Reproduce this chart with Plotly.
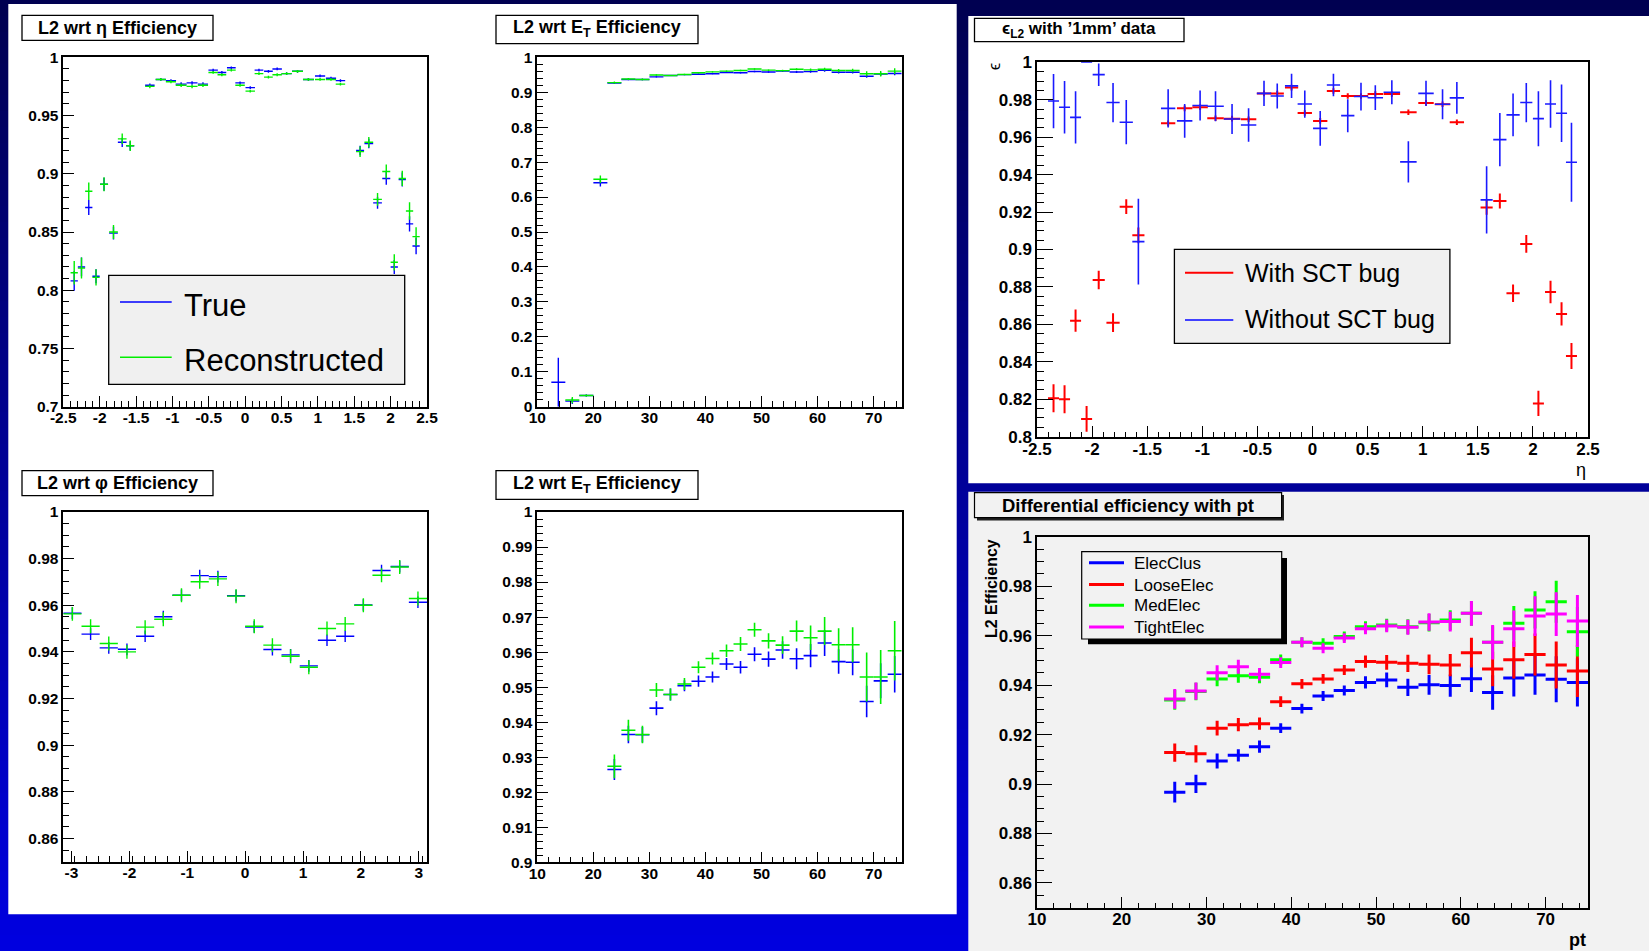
import plotly.graph_objects as go

W, H = 1649, 951

# ---------------- data ----------------
# eta binning (shared by the eta efficiency plots)
eta_centers = [-2.35, -2.25, -2.15, -2.05, -1.94, -1.81, -1.69, -1.58,
               -1.31, -1.16, -1.02, -0.88, -0.73, -0.58, -0.44, -0.32, -0.19, -0.07,
               0.07, 0.19, 0.32, 0.44, 0.57, 0.72, 0.87, 1.03, 1.18, 1.31,
               1.58, 1.70, 1.82, 1.94, 2.05, 2.16, 2.26, 2.35]
eta_halfwidth = [0.05, 0.05, 0.05, 0.05, 0.055, 0.06, 0.06, 0.055,
                 0.065, 0.07, 0.07, 0.075, 0.075, 0.07, 0.065, 0.06, 0.06, 0.065,
                 0.065, 0.06, 0.06, 0.065, 0.07, 0.075, 0.075, 0.07, 0.07, 0.065,
                 0.055, 0.06, 0.06, 0.055, 0.05, 0.05, 0.05, 0.05]
eta_true = [0.808, 0.820, 0.871, 0.812, 0.891, 0.849, 0.927, 0.924,
            0.976, 0.981, 0.980, 0.977, 0.978, 0.977, 0.989, 0.987, 0.991, 0.978,
            0.974, 0.989, 0.988, 0.990, 0.986, 0.988, 0.981, 0.984, 0.982, 0.980,
            0.920, 0.926, 0.875, 0.896, 0.820, 0.895, 0.857, 0.838]
eta_true_err = [0.0085, 0.008, 0.0065, 0.006, 0.0055, 0.0055, 0.004, 0.004,
                0.0015, 0.0012, 0.0012, 0.0015, 0.0015, 0.0015, 0.0012, 0.0012, 0.0012, 0.0012,
                0.0012, 0.0012, 0.0012, 0.0012, 0.0012, 0.0012, 0.0012, 0.0012, 0.0012, 0.0012,
                0.004, 0.004, 0.005, 0.0055, 0.006, 0.006, 0.0065, 0.007]
eta_reco = [0.815, 0.819, 0.885, 0.811, 0.891, 0.850, 0.930, 0.924,
            0.975, 0.981, 0.979, 0.976, 0.975, 0.976, 0.987, 0.985, 0.989, 0.976,
            0.971, 0.986, 0.983, 0.985, 0.986, 0.988, 0.981, 0.981, 0.981, 0.977,
            0.919, 0.927, 0.878, 0.902, 0.824, 0.896, 0.868, 0.846]
eta_reco_err = [0.01, 0.009, 0.0075, 0.007, 0.006, 0.006, 0.0045, 0.0045,
                0.0015, 0.0012, 0.0012, 0.0015, 0.0015, 0.0015, 0.0012, 0.0012, 0.0012, 0.0012,
                0.0012, 0.0012, 0.0012, 0.0012, 0.0012, 0.0012, 0.0012, 0.0012, 0.0012, 0.0012,
                0.0045, 0.0045, 0.0055, 0.006, 0.007, 0.0065, 0.0075, 0.008]

# E_T binning (2.5 GeV bins)
et_centers = [13.75, 16.25, 18.75, 21.25, 23.75, 26.25, 28.75, 31.25, 33.75, 36.25,
              38.75, 41.25, 43.75, 46.25, 48.75, 51.25, 53.75, 56.25, 58.75, 61.25,
              63.75, 66.25, 68.75, 71.25, 73.75]
et_half_bin = 1.25
et_true = [0.070, 0.016, 0.032, 0.641, 0.9265, 0.9365, 0.9364, 0.9440, 0.9479, 0.9504,
           0.9517, 0.9529, 0.9566, 0.9557, 0.9594, 0.9580, 0.9606, 0.9581, 0.9590, 0.9626,
           0.9573, 0.9571, 0.9459, 0.9518, 0.9537]
et_true_err = [0.07, 0.008, 0.003, 0.011, 0.003, 0.0025, 0.0022, 0.002, 0.0017, 0.0016,
               0.0016, 0.0016, 0.0017, 0.0018, 0.002, 0.0022, 0.0025, 0.003, 0.0033, 0.0037,
               0.0035, 0.0037, 0.0045, 0.005, 0.0052]
et_reco = [None, 0.019, 0.032, 0.651, 0.9274, 0.9377, 0.9365, 0.9492, 0.9479, 0.9509,
           0.9557, 0.9582, 0.9604, 0.9623, 0.9664, 0.9632, 0.9620, 0.9660, 0.9641, 0.9660,
           0.9621, 0.9621, 0.9529, 0.9529, 0.9604]
et_reco_err = [0, 0.009, 0.003, 0.011, 0.0034, 0.003, 0.0025, 0.002, 0.0017, 0.0017,
               0.0017, 0.0017, 0.0018, 0.002, 0.002, 0.0022, 0.0025, 0.003, 0.0035, 0.004,
               0.0047, 0.005, 0.007, 0.0077, 0.0085]

# phi binning (20 bins over -pi..pi)
phi_centers = [-2.985, -2.670, -2.356, -2.042, -1.728, -1.414, -1.100, -0.785, -0.471, -0.157,
               0.157, 0.471, 0.785, 1.100, 1.414, 1.728, 2.042, 2.356, 2.670, 2.985]
phi_half_bin = 0.157
phi_true = [0.9566, 0.9476, 0.9417, 0.9411, 0.9467, 0.9551, 0.9643, 0.9727, 0.9723, 0.9641,
            0.9507, 0.9410, 0.9387, 0.9340, 0.9450, 0.9467, 0.9601, 0.9749, 0.9766, 0.9613]
phi_true_err = [0.0025] * 20
phi_reco = [0.9563, 0.9510, 0.9436, 0.9400, 0.9506, 0.9540, 0.9643, 0.9701, 0.9713, 0.9639,
            0.9510, 0.9429, 0.9381, 0.9334, 0.9500, 0.9520, 0.9600, 0.9729, 0.9764, 0.9629]
phi_reco_err = [0.003] * 20

# '1mm' data, with and without the SCT bug (same eta binning)
sct_bug = [0.8205, 0.8200, 0.8620, 0.8095, 0.8837, 0.8609, 0.9229, 0.9076,
           0.9674, 0.9754, 0.9760, 0.9701, 0.9699, 0.9696, 0.9834, 0.9833, 0.9865, 0.9729,
           0.9687, 0.9847, 0.9820, 0.9820, 0.9831, 0.9831, 0.9733, 0.9783, 0.9776, 0.9680,
           0.9225, 0.9259, 0.8766, 0.9030, 0.8178, 0.8773, 0.8656, 0.8431]
sct_bug_err = [0.0075, 0.0075, 0.006, 0.0069, 0.005, 0.005, 0.004, 0.0042,
               0.0015, 0.0015, 0.0015, 0.0015, 0.0015, 0.0015, 0.0015, 0.0015, 0.0015, 0.0015,
               0.0015, 0.0015, 0.0015, 0.0015, 0.0015, 0.0015, 0.0015, 0.0015, 0.0015, 0.0015,
               0.004, 0.004, 0.0047, 0.0047, 0.0068, 0.006, 0.0062, 0.0069]
sct_nobug = [0.9793, 0.9760, 0.9706, 1.0000, 0.9934, 0.9785, 0.9680, 0.9042,
             0.9754, 0.9687, 0.9769, 0.9765, 0.9697, 0.9665, 0.9834, 0.9820, 0.9874, 0.9777,
             0.9647, 0.9879, 0.9715, 0.9817, 0.9811, 0.9840, 0.9468, 0.9834, 0.9776, 0.9810,
             0.9265, 0.9587, 0.9719, 0.9785, 0.9699, 0.9777, 0.9728, 0.9466]
sct_nobug_err = [0.0145, 0.014, 0.014, 0.0, 0.006, 0.0105, 0.0118, 0.0229,
                 0.0102, 0.009, 0.008, 0.008, 0.008, 0.009, 0.0068, 0.0067, 0.0065, 0.0073,
                 0.0093, 0.006, 0.0088, 0.0074, 0.0066, 0.0064, 0.011, 0.0067, 0.008, 0.0085,
                 0.018, 0.0142, 0.0114, 0.0105, 0.0147, 0.0127, 0.0154, 0.0211]

# differential efficiency vs pt
pt_centers = [26.25, 28.75, 31.25, 33.75, 36.25, 38.75, 41.25, 43.75, 46.25, 48.75,
              51.25, 53.75, 56.25, 58.75, 61.25, 63.75, 66.25, 68.75, 71.25, 73.75]
pt_half_bin = 1.25
elec_clus = [0.8967, 0.9001, 0.9093, 0.9116, 0.9151, 0.9226, 0.9305, 0.9356, 0.9378, 0.9411,
             0.9421, 0.9391, 0.9401, 0.9398, 0.9426, 0.9370, 0.9429, 0.9441, 0.9424, 0.9411]
elec_clus_err = [0.0042, 0.0037, 0.003, 0.0025, 0.0025, 0.002, 0.002, 0.002, 0.002, 0.0025,
                 0.003, 0.0035, 0.004, 0.0045, 0.0054, 0.007, 0.0075, 0.008, 0.0093, 0.0098]
loose_elec = [0.9127, 0.9122, 0.9226, 0.9240, 0.9244, 0.9333, 0.9405, 0.9425, 0.9461, 0.9495,
              0.9492, 0.9488, 0.9484, 0.9481, 0.9531, 0.9465, 0.9502, 0.9524, 0.9481, 0.9457]
loose_elec_err = [0.0037, 0.0035, 0.003, 0.0027, 0.0025, 0.0022, 0.002, 0.002, 0.002, 0.0025,
                  0.003, 0.0035, 0.004, 0.0045, 0.006, 0.007, 0.0075, 0.0085, 0.0095, 0.0105]
med_elec = [0.9340, 0.9374, 0.9425, 0.9438, 0.9432, 0.9502, 0.9573, 0.9569, 0.9597, 0.9636,
            0.9643, 0.9636, 0.9652, 0.9663, 0.9690, 0.9573, 0.9650, 0.9704, 0.9737, 0.9616]
med_elec_err = [0.004, 0.0035, 0.003, 0.0028, 0.0025, 0.0022, 0.002, 0.002, 0.002, 0.0022,
                0.0025, 0.003, 0.0035, 0.004, 0.005, 0.0065, 0.007, 0.0075, 0.0085, 0.01]
tight_elec = [0.9344, 0.9376, 0.9450, 0.9474, 0.9444, 0.9491, 0.9573, 0.9549, 0.9590, 0.9628,
              0.9639, 0.9634, 0.9655, 0.9657, 0.9690, 0.9573, 0.9628, 0.9679, 0.9687, 0.9659]
tight_elec_err = [0.004, 0.0035, 0.003, 0.0028, 0.0025, 0.0022, 0.002, 0.002, 0.002, 0.0022,
                  0.0025, 0.003, 0.0035, 0.004, 0.005, 0.007, 0.0074, 0.008, 0.0088, 0.0105]

# tick labels
eta_tickvals = [-2.5, -2, -1.5, -1, -0.5, 0, 0.5, 1, 1.5, 2, 2.5]
eta_ticktext = ["-2.5", "-2", "-1.5", "-1", "-0.5", "0", "0.5", "1", "1.5", "2", "2.5"]
phi_tickvals = [-3, -2, -1, 0, 1, 2, 3]
phi_ticktext = ["-3", "-2", "-1", "0", "1", "2", "3"]

# ---------------- helpers ----------------
FONT = "Liberation Sans, Arial, sans-serif"


def px(x):
    return x / W


def py(y):
    return 1 - y / H


fig = go.Figure()
shapes = []
annotations = []


def rect(x0, y0, x1, y1, fill, line_color=None, line_width=0):
    shapes.append(dict(type="rect", xref="paper", yref="paper", layer="below",
                       x0=px(x0), x1=px(x1), y0=py(y1), y1=py(y0),
                       fillcolor=fill,
                       line=dict(color=line_color or fill, width=line_width)))


def box(x0, y0, x1, y1, fill, lw=1.3):
    shapes.append(dict(type="rect", xref="paper", yref="paper", layer="above",
                       x0=px(x0), x1=px(x1), y0=py(y1), y1=py(y0),
                       fillcolor=fill, line=dict(color="black", width=lw)))


def hline(x0, x1, y, color, width):
    shapes.append(dict(type="line", xref="paper", yref="paper", layer="above",
                       x0=px(x0), x1=px(x1), y0=py(y), y1=py(y),
                       line=dict(color=color, width=width)))


def text(x, y, s, size, xanchor="left", bold=False, angle=0, yanchor="middle"):
    annotations.append(dict(xref="paper", yref="paper", x=px(x), y=py(y),
                            text=s, showarrow=False, xanchor=xanchor, yanchor=yanchor,
                            textangle=angle,
                            font=dict(family=FONT, size=size, color="black",
                                      weight="bold" if bold else "normal")))


def errpoints(x, y, xerr, yerr, color, width, n):
    xe = dict(type="data", array=xerr, color=color, thickness=width, width=0) \
        if isinstance(xerr, list) else \
        dict(type="constant", value=xerr, color=color, thickness=width, width=0)
    fig.add_trace(go.Scatter(
        x=x, y=y, mode="markers", marker=dict(size=1, opacity=0, color=color),
        error_x=xe,
        error_y=dict(type="data", array=yerr, color=color, thickness=width, width=0),
        xaxis="x" + n, yaxis="y" + n, showlegend=False, hoverinfo="skip"))


def axis(domain, rng, anchor, major_len, minor_len, minor_dtick, size,
         dtick=None, tick0=None, tickvals=None, ticktext=None, standoff=0):
    a = dict(domain=domain, range=rng, anchor=anchor, automargin=False,
             showline=True, linecolor="black", linewidth=1.5, mirror=True,
             showgrid=False, zeroline=False,
             ticks="inside", ticklen=major_len, tickwidth=1.2, tickcolor="black",
             ticklabelstandoff=standoff,
             tickfont=dict(family=FONT, size=size, color="black", weight="bold"),
             minor=dict(ticks="inside", ticklen=minor_len, tickwidth=1.2,
                        tickcolor="black", tickmode="linear",
                        tick0=rng[0], dtick=minor_dtick, showgrid=False),
             fixedrange=True)
    if tickvals is not None:
        a.update(tickmode="array", tickvals=tickvals, ticktext=ticktext)
    else:
        a.update(tickmode="linear", tick0=tick0, dtick=dtick)
    return a


def dom_x(a, b):
    return [a / W, b / W]


def dom_y(top, bottom):
    return [1 - bottom / H, 1 - top / H]


# ---------------- backgrounds ----------------
n_strips = 60
for i in range(n_strips):
    t = (i + 0.5) / n_strips
    b = int(80 + 145 * t)
    rect(0, i * H / n_strips, W, (i + 1) * H / n_strips + 1, "rgb(0,0,%d)" % b)
rect(8.3, 4, 956.7, 914.3, "white")
rect(968.3, 16, W + 2, 483.3, "white")
rect(968.3, 491.7, W + 2, H + 2, "#f2f2f2")

# ---------------- traces ----------------
BLUE, GREEN, RED, MAG = "#0000ff", "#00ee00", "#ff0000", "#ff00ff"

errpoints(eta_centers, eta_true, eta_halfwidth, eta_true_err, BLUE, 1.4, "")
errpoints(eta_centers, eta_reco, eta_halfwidth, eta_reco_err, GREEN, 1.4, "")

errpoints(et_centers, et_true, et_half_bin, et_true_err, BLUE, 1.4, "2")
errpoints(et_centers, et_reco, et_half_bin, et_reco_err, GREEN, 1.4, "2")

errpoints(phi_centers, phi_true, phi_half_bin, phi_true_err, BLUE, 1.4, "3")
errpoints(phi_centers, phi_reco, phi_half_bin, phi_reco_err, GREEN, 1.4, "3")

errpoints(et_centers, et_true, et_half_bin, et_true_err, BLUE, 1.6, "4")
errpoints(et_centers, et_reco, et_half_bin, et_reco_err, GREEN, 1.6, "4")

errpoints(eta_centers, sct_bug, eta_halfwidth, sct_bug_err, RED, 2, "5")
errpoints(eta_centers, sct_nobug, eta_halfwidth, sct_nobug_err, "#1a1aff", 1.6, "5")

errpoints(pt_centers, elec_clus, pt_half_bin, elec_clus_err, BLUE, 3, "6")
errpoints(pt_centers, loose_elec, pt_half_bin, loose_elec_err, RED, 3, "6")
errpoints(pt_centers, med_elec, pt_half_bin, med_elec_err, "#00ff00", 3, "6")
errpoints(pt_centers, tight_elec, pt_half_bin, tight_elec_err, MAG, 3, "6")

# ---------------- axes ----------------
layout_axes = dict(
    xaxis=axis(dom_x(63.3, 427), [-2.5, 2.5], "y", 10.5, 5.5, 0.1, 15.5,
               tickvals=eta_tickvals, ticktext=eta_ticktext, standoff=-4),
    yaxis=axis(dom_y(57.3, 406.7), [0.7, 1.0], "x", 10.5, 5.5, 0.01, 15.5,
               dtick=0.05, tick0=0.7),
    xaxis2=axis(dom_x(537.3, 901.7), [10, 75], "y2", 10.5, 5.5, 2, 15.5,
                dtick=10, tick0=10, standoff=-4),
    yaxis2=axis(dom_y(57.3, 406.7), [0, 1.0], "x2", 10.5, 5.5, 0.02, 15.5,
                dtick=0.1, tick0=0),
    xaxis3=axis(dom_x(63.3, 427), [-3.1416, 3.1416], "y3", 10.5, 5.5, 0.2, 15.5,
                tickvals=phi_tickvals, ticktext=phi_ticktext, standoff=-4),
    yaxis3=axis(dom_y(512, 861.7), [0.85, 1.0], "x3", 10.5, 5.5, 0.005, 15.5,
                dtick=0.02, tick0=0.86),
    xaxis4=axis(dom_x(537.3, 901.7), [10, 75], "y4", 10.5, 5.5, 2, 15.5,
                dtick=10, tick0=10, standoff=-4),
    yaxis4=axis(dom_y(512, 862.3), [0.9, 1.0], "x4", 10.5, 5.5, 0.002, 15.5,
                dtick=0.01, tick0=0.9),
    xaxis5=axis(dom_x(1037, 1588), [-2.5, 2.5], "y5", 10.7, 5.3, 0.1, 17,
                tickvals=eta_tickvals, ticktext=eta_ticktext, standoff=-4),
    yaxis5=axis(dom_y(62.3, 436.7), [0.8, 1.0], "x5", 16, 7.5, 0.005, 17,
                dtick=0.02, tick0=0.8),
    xaxis6=axis(dom_x(1037, 1588), [10, 75], "y6", 10.5, 5, 2, 17,
                dtick=10, tick0=10, standoff=-5),
    yaxis6=axis(dom_y(536.7, 907.7), [0.85, 1.0], "x6", 15.5, 7.5, 0.005, 17,
                dtick=0.02, tick0=0.86),
)

# ---------------- titles, legends, axis titles ----------------
# L2 wrt eta
box(22, 15.3, 213, 40.3, "white")
text(117.5, 28, "L2 wrt η Efficiency", 18, xanchor="center", bold=True)
# L2 wrt E_T (top)
box(496, 15.3, 698, 43.7, "white")
text(597, 28.5, "L2 wrt E<sub>T</sub> Efficiency", 18, xanchor="center", bold=True)
# L2 wrt phi
box(22, 470.7, 213, 495.7, "white")
text(117.5, 483, "L2 wrt φ Efficiency", 18, xanchor="center", bold=True)
# L2 wrt E_T (bottom)
box(496, 470.7, 698, 499.3, "white")
text(597, 484, "L2 wrt E<sub>T</sub> Efficiency", 18, xanchor="center", bold=True)

# eta legend
box(108.7, 275.3, 404.7, 384.3, "#f0f0f0", lw=1.3)
hline(120, 171.7, 302, BLUE, 1.5)
hline(120, 171.7, 357.3, GREEN, 1.5)
text(181.7, 305, "True", 31)
text(181.7, 360, "Reconstructed", 31)

# '1mm' data panel
box(974.5, 18.3, 1184, 41.7, "white")
text(1079, 30, "ϵ<sub>L2</sub> with ’1mm’ data", 17, xanchor="center", bold=True)
box(1174.4, 249.3, 1449.9, 343.3, "#f0f0f0", lw=1.3)
hline(1185, 1233.3, 272.7, RED, 2)
hline(1185, 1233.3, 320, "#4040ff", 2)
text(1243.4, 273, "With SCT bug", 25)
text(1243.4, 319, "Without SCT bug", 25)
text(994, 67, "ϵ", 16, xanchor="center", angle=-90)
text(1588, 470, "η", 18, xanchor="right")

# differential efficiency panel
rect(977, 495, 1284, 520.5, "#202020")
box(974.5, 492.7, 1281.6, 517.7, "#f2f2f2", lw=1.2)
text(1128, 505, "Differential efficiency with pt", 18.5, xanchor="center", bold=True)
shapes.append(dict(type="rect", xref="paper", yref="paper", layer="above",
                   x0=px(1088), x1=px(1287), y0=py(644.3), y1=py(558),
                   fillcolor="black", line=dict(color="black", width=0)))
box(1081.7, 551.7, 1281.7, 639, "#f2f2f2", lw=1.2)
legend6 = [("ElecClus", BLUE, 563.3), ("LooseElec", RED, 585),
           ("MedElec", "#00ff00", 605.8), ("TightElec", MAG, 627.5)]
for name, col, yy in legend6:
    hline(1089, 1124, yy - 0.5, col, 3)
    text(1131.7, yy, name, 17)
text(991, 589, "L2 Efficiency", 16, xanchor="center", bold=True, angle=-90)
text(1588, 940, "pt", 18, xanchor="right", bold=True)

fig.update_layout(
    width=W, height=H, margin=dict(l=0, r=0, t=0, b=0, autoexpand=False),
    paper_bgcolor="#000050", plot_bgcolor="rgba(0,0,0,0)",
    showlegend=False, shapes=shapes, annotations=annotations,
    **layout_axes)

fig.write_html("out.html")
